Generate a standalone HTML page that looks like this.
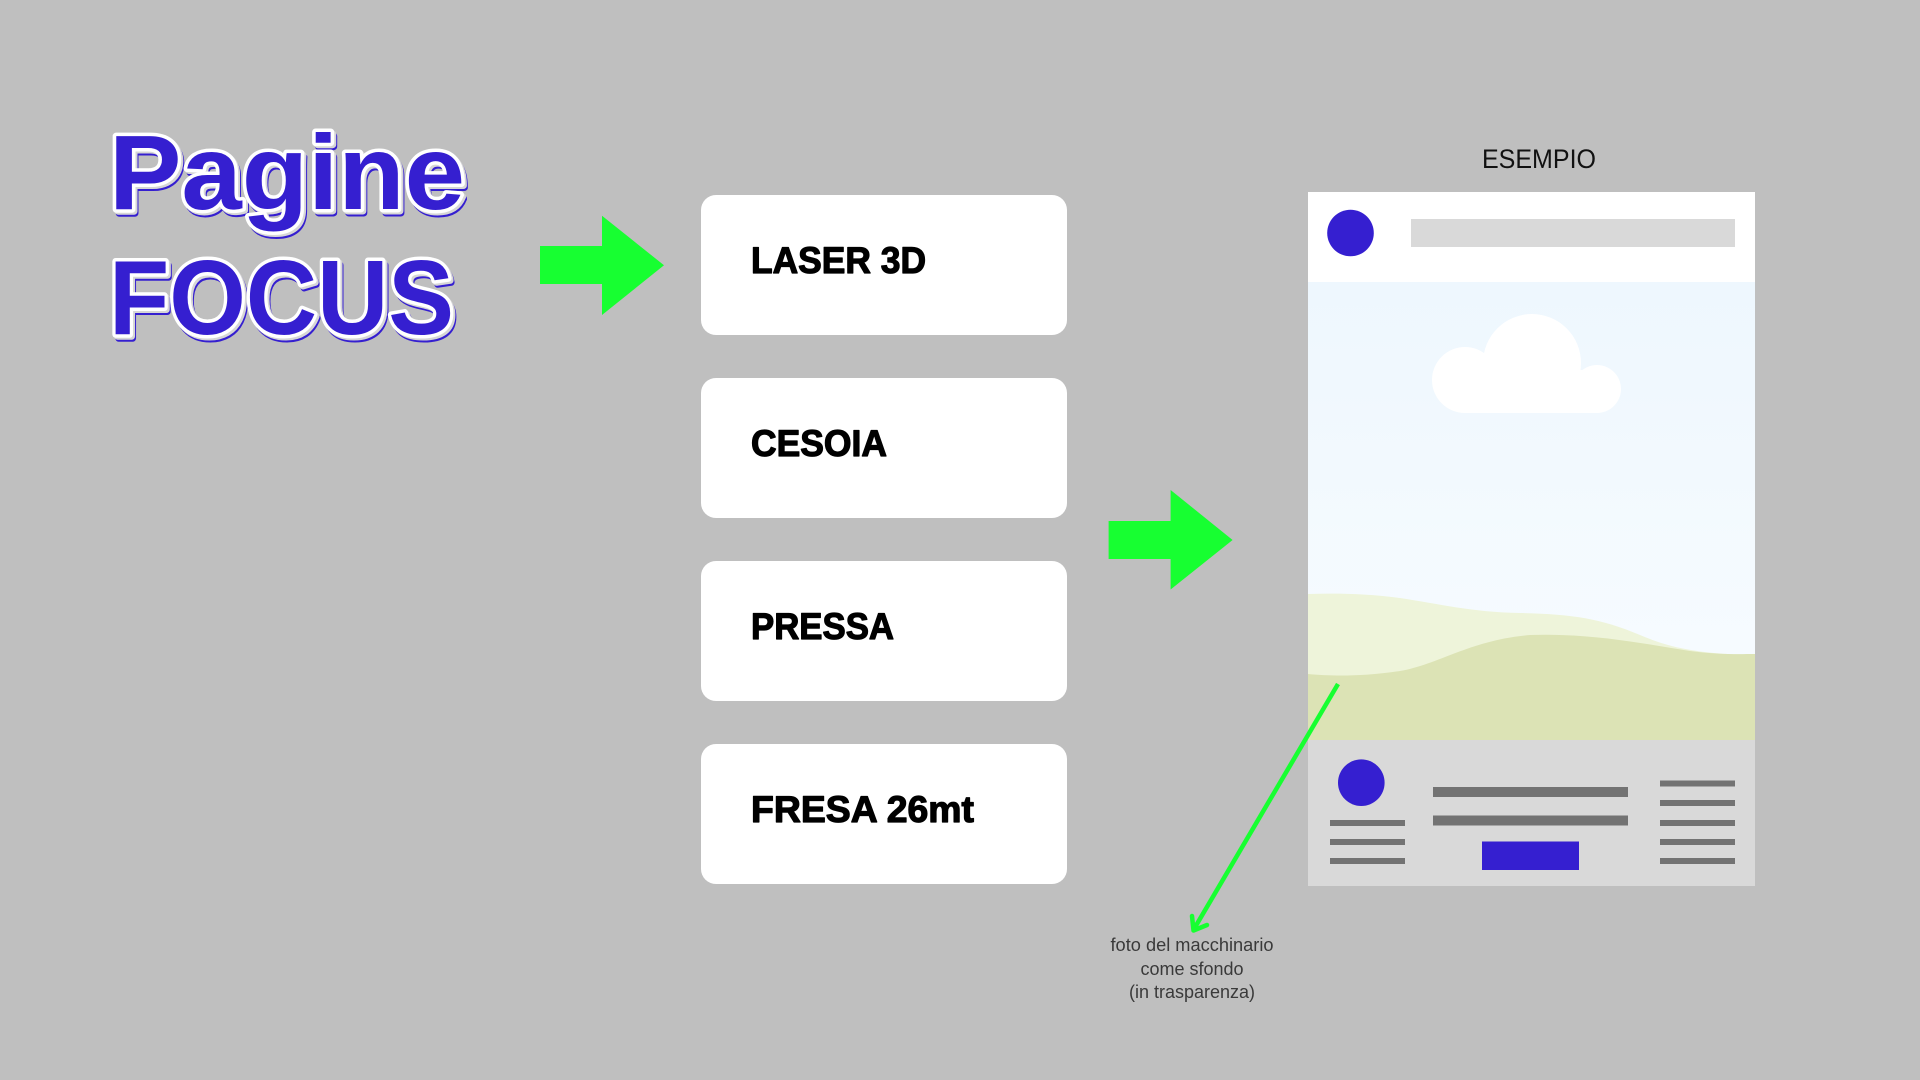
<!DOCTYPE html>
<html>
<head>
<meta charset="utf-8">
<style>
  html,body{margin:0;padding:0;background:#bfbfbf;}
  svg{display:block;}
</style>
</head>
<body>
<svg width="1920" height="1080" viewBox="0 0 1920 1080" xmlns="http://www.w3.org/2000/svg">
  <defs>
    <linearGradient id="sky" x1="0" y1="0" x2="0" y2="1">
      <stop offset="0" stop-color="#eef7fe"/>
      <stop offset="1" stop-color="#f8fcff"/>
    </linearGradient>
  </defs>
  <rect width="1920" height="1080" fill="#bfbfbf"/>

  <!-- Title -->
  <g font-family="'Liberation Sans', sans-serif" font-weight="bold" font-size="106">
    <g transform="translate(3,4)" fill="#351fd0" stroke="#351fd0" stroke-width="7" stroke-linejoin="round" paint-order="stroke">
      <text x="109" y="209" textLength="356" lengthAdjust="spacingAndGlyphs">Pagine</text>
      <text x="109" y="334" textLength="345" lengthAdjust="spacingAndGlyphs">FOCUS</text>
    </g>
    <g transform="translate(2,2)" fill="#d6d6d6" stroke="#d6d6d6" stroke-width="7" stroke-linejoin="round" paint-order="stroke">
      <text x="109" y="209" textLength="356" lengthAdjust="spacingAndGlyphs">Pagine</text>
      <text x="109" y="334" textLength="345" lengthAdjust="spacingAndGlyphs">FOCUS</text>
    </g>
    <g fill="#351fd0" stroke="#ffffff" stroke-width="7" stroke-linejoin="round" paint-order="stroke">
      <text x="109" y="209" textLength="356" lengthAdjust="spacingAndGlyphs">Pagine</text>
      <text x="109" y="334" textLength="345" lengthAdjust="spacingAndGlyphs">FOCUS</text>
    </g>
  </g>

  <!-- Arrow 1 -->
  <polygon points="540,246 602,246 602,215.7 664,265.3 602,315 602,284 540,284" fill="#17ff31"/>

  <!-- Boxes -->
  <g fill="#ffffff">
    <rect x="701" y="195" width="366" height="140" rx="15" ry="15"/>
    <rect x="701" y="378" width="366" height="140" rx="15" ry="15"/>
    <rect x="701" y="561" width="366" height="140" rx="15" ry="15"/>
    <rect x="701" y="744" width="366" height="140" rx="15" ry="15"/>
  </g>
  <g font-family="'Liberation Sans', sans-serif" font-weight="bold" font-size="37" fill="#000000" stroke="#000000" stroke-width="1.2" stroke-linejoin="round">
    <text x="751" y="273" textLength="175" lengthAdjust="spacingAndGlyphs">LASER 3D</text>
    <text x="751" y="456" textLength="136" lengthAdjust="spacingAndGlyphs">CESOIA</text>
    <text x="751" y="639" textLength="143" lengthAdjust="spacingAndGlyphs">PRESSA</text>
    <text x="751" y="822" textLength="223" lengthAdjust="spacingAndGlyphs">FRESA 26mt</text>
  </g>

  <!-- Arrow 2 -->
  <polygon points="1108.6,521 1170.6,521 1170.6,490 1232.6,540 1170.6,589.5 1170.6,559 1108.6,559" fill="#17ff31"/>

  <!-- ESEMPIO -->
  <text x="1482" y="168" font-family="'Liberation Sans', sans-serif" font-size="27" fill="#111111" textLength="114" lengthAdjust="spacingAndGlyphs">ESEMPIO</text>

  <!-- Mockup frame -->
  <rect x="1308" y="192" width="447" height="90" fill="#ffffff"/>
  <rect x="1308" y="282" width="447" height="458" fill="url(#sky)"/>
  <path d="M1308,594 C1340,593 1370,594 1400,598 C1440,604 1470,612 1520,613 C1570,614 1600,618 1640,635 C1670,648 1700,654 1755,655 L1755,740 L1308,740 Z" fill="#eef4da"/>
  <path d="M1308,674 C1330,676 1360,677 1400,671 C1440,664 1470,640 1530,635 C1590,633 1640,643 1690,651 C1720,655 1740,654 1755,654 L1755,740 L1308,740 Z" fill="#dce3b5"/>
  <rect x="1308" y="740" width="447" height="146" fill="#d9d9d9"/>

  <circle cx="1350.5" cy="233" r="23.3" fill="#351fd0"/>
  <rect x="1411" y="219" width="324" height="28" fill="#d9d9d9"/>

  <g fill="#ffffff">
    <circle cx="1532" cy="363" r="49"/>
    <circle cx="1465" cy="380" r="33"/>
    <circle cx="1597" cy="389" r="24"/>
    <rect x="1465" y="370" width="132" height="43"/>
  </g>

  <circle cx="1361.3" cy="782.7" r="23.3" fill="#351fd0"/>
  <g fill="#737373">
    <rect x="1330" y="820" width="75" height="6"/>
    <rect x="1330" y="839" width="75" height="6"/>
    <rect x="1330" y="858" width="75" height="6"/>
    <rect x="1433" y="787" width="195" height="10"/>
    <rect x="1433" y="815.5" width="195" height="10"/>
    <rect x="1660" y="780.5" width="75" height="6"/>
    <rect x="1660" y="800" width="75" height="6"/>
    <rect x="1660" y="820" width="75" height="6"/>
    <rect x="1660" y="839" width="75" height="6"/>
    <rect x="1660" y="858" width="75" height="6"/>
  </g>
  <rect x="1482" y="841.5" width="97" height="28.5" fill="#351fd0"/>

  <!-- green pointer -->
  <line x1="1338" y1="684" x2="1194" y2="929" stroke="#17ff31" stroke-width="4.5"/>
  <polyline points="1192,916 1193.5,930.5 1207,925" fill="none" stroke="#17ff31" stroke-width="4.5" stroke-linecap="round" stroke-linejoin="round"/>

  <!-- caption -->
  <g font-family="'Liberation Sans', sans-serif" font-size="18" fill="#3a3a3a" text-anchor="middle">
    <text x="1192" y="951" textLength="163" lengthAdjust="spacingAndGlyphs">foto del macchinario</text>
    <text x="1192" y="975">come sfondo</text>
    <text x="1192" y="998">(in trasparenza)</text>
  </g>
</svg>
</body>
</html>
